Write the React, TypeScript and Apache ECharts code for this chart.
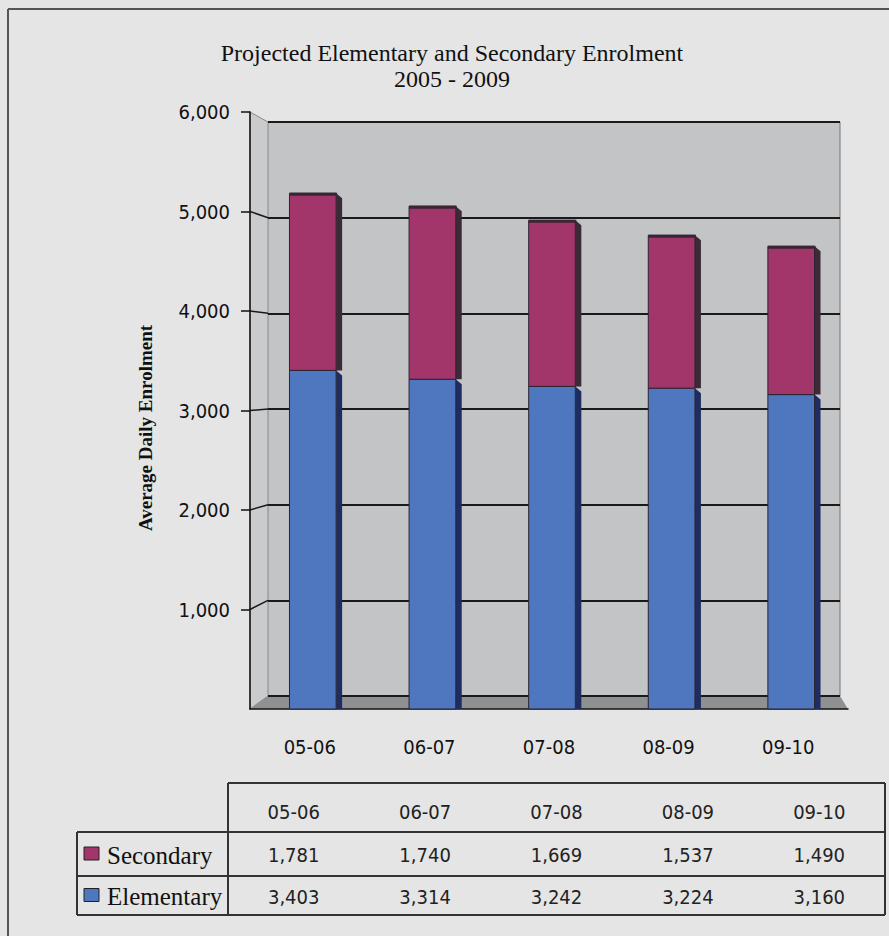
import React, { useEffect, useRef } from "react";
import * as echarts from "echarts";

const categories = ["05-06", "06-07", "07-08", "08-09", "09-10"];
const secondary = [1781, 1740, 1669, 1537, 1490];
const elementary = [3403, 3314, 3242, 3224, 3160];
const seriesNames = ["Secondary", "Elementary"];
const titleLines = ["Projected Elementary and Secondary Enrolment", "2005 - 2009"];
const yAxisName = "Average Daily Enrolment";
const yMin = 0;
const yMax = 6000;
const yInterval = 1000;

const SEC_COLOR = "#a2356a";
const SEC_SIDE = "#3c2a36";
const ELE_COLOR = "#4e77c0";
const ELE_SIDE = "#1f2c62";

const NUM_FONT = '"DejaVu Sans Condensed", "Liberation Sans Narrow", "DejaVu Sans", sans-serif';
const SERIF = '"Liberation Serif", "DejaVu Serif", serif';

// layout
const FRONT = { left: 250, top: 112, width: 598, height: 597 };
const BACK = { left: 268, top: 122, width: 572, height: 574 };
const TABLE = { legendLeft: 77, left: 228, right: 885, top: 783, r1: 832, r2: 876, bottom: 915 };

const fmt = (v: number) => v.toLocaleString("en-US");

export default function App() {
  const ref = useRef<HTMLDivElement>(null);
  useEffect(() => {
    document.body.style.margin = "0";
    const chart = echarts.init(ref.current!, null, { renderer: "svg" });

    const makeRender = (color: string, side: string, isTop: boolean) =>
      (params: any, api: any) => {
        const i = api.value(0);
        const p0 = api.coord([i, api.value(1)]);
        const p1 = api.coord([i, api.value(2)]);
        const w = api.size([1, 0])[0] * 0.39;
        const xc = p0[0] + 3;
        const x0 = xc - w / 2;
        const x1 = xc + w / 2;
        const yTop = p1[1];
        const yBot = p0[1];
        const children: any[] = [
          {
            type: "polygon",
            shape: { points: [[x1, yTop], [x1 + 6, yTop + 5], [x1 + 6, yBot], [x1, yBot]] },
            style: { fill: side },
          },
          {
            type: "rect",
            shape: { x: x0, y: yTop, width: w, height: yBot - yTop },
            style: { fill: color, stroke: "#2a2430", lineWidth: 1 },
          },
        ];
        if (isTop) {
          children.push({
            type: "line",
            shape: { x1: x0, y1: yTop + 1, x2: x1 + 1, y2: yTop + 1 },
            style: { stroke: "#3a2632", lineWidth: 3 },
          });
        }
        return { type: "group", children };
      };

    const colW = (TABLE.right - TABLE.left) / categories.length;
    const tableEls: any[] = [];
    const lineStyle = { stroke: "#333", lineWidth: 2 };
    const hl = (x1: number, x2: number, y: number) =>
      tableEls.push({ type: "line", shape: { x1, y1: y, x2, y2: y }, style: lineStyle });
    const vl = (x: number, y1: number, y2: number) =>
      tableEls.push({ type: "line", shape: { x1: x, y1, x2: x, y2 }, style: lineStyle });
    hl(TABLE.left, TABLE.right, TABLE.top);
    hl(TABLE.legendLeft, TABLE.right, TABLE.r1);
    hl(TABLE.legendLeft, TABLE.right, TABLE.r2);
    hl(TABLE.legendLeft, TABLE.right, TABLE.bottom);
    vl(TABLE.left, TABLE.top, TABLE.bottom);
    vl(TABLE.right, TABLE.top, TABLE.bottom);
    vl(TABLE.legendLeft, TABLE.r1, TABLE.bottom);
    const rows = [
      { name: seriesNames[0], values: secondary, color: SEC_COLOR, y: (TABLE.r1 + TABLE.r2) / 2 },
      { name: seriesNames[1], values: elementary, color: ELE_COLOR, y: (TABLE.r2 + TABLE.bottom) / 2 },
    ];
    categories.forEach((c, i) => {
      tableEls.push({
        type: "text",
        x: TABLE.left + (i + 0.5) * colW,
        y: (TABLE.top + TABLE.r1) / 2 + 4,
        style: { text: c, font: `20px ${NUM_FONT}`, fill: "#222", align: "center", verticalAlign: "middle" },
      });
    });
    rows.forEach((r) => {
      tableEls.push({
        type: "rect",
        shape: { x: 84, y: r.y - 7, width: 15, height: 13 },
        style: { fill: r.color, stroke: "#222", lineWidth: 1 },
      });
      tableEls.push({
        type: "text",
        x: 107,
        y: r.y + 1,
        style: { text: r.name, font: `25px ${SERIF}`, fill: "#111", align: "left", verticalAlign: "middle" },
      });
      r.values.forEach((v, i) => {
        tableEls.push({
          type: "text",
          x: TABLE.left + (i + 0.5) * colW,
          y: r.y + 1,
          style: { text: fmt(v), font: `20px ${NUM_FONT}`, fill: "#222", align: "center", verticalAlign: "middle" },
        });
      });
    });

    const fb = FRONT.top + FRONT.height;
    const bb = BACK.top + BACK.height;
    const decor: any[] = [
      // frame
      { type: "line", shape: { x1: 8, y1: 9, x2: 889, y2: 9 }, style: { stroke: "#555", lineWidth: 2 } },
      { type: "line", shape: { x1: 8, y1: 9, x2: 8, y2: 936 }, style: { stroke: "#555", lineWidth: 2 } },
      // side wall
      {
        type: "polygon",
        z: -1,
        shape: { points: [[FRONT.left, FRONT.top], [BACK.left, BACK.top], [BACK.left, bb], [FRONT.left, fb]] },
        style: { fill: "#c9cbcd", stroke: "#888", lineWidth: 1 },
      },
      // floor
      {
        type: "polygon",
        z: -1,
        shape: {
          points: [[FRONT.left, fb], [BACK.left, bb], [BACK.left + BACK.width, bb], [FRONT.left + FRONT.width, fb]],
        },
        style: { fill: "#8f9092" },
      },
      // wall right edge
      {
        type: "line",
        shape: { x1: BACK.left + BACK.width, y1: BACK.top, x2: BACK.left + BACK.width, y2: bb },
        style: { stroke: "#777", lineWidth: 1 },
      },
      // titles
      {
        type: "text",
        x: 452,
        y: 53,
        style: { text: titleLines[0], font: `24px ${SERIF}`, fill: "#111", align: "center", verticalAlign: "middle" },
      },
      {
        type: "text",
        x: 452,
        y: 79,
        style: { text: titleLines[1], font: `24px ${SERIF}`, fill: "#111", align: "center", verticalAlign: "middle" },
      },
      // y axis name
      {
        type: "text",
        x: 145,
        y: 428,
        rotation: Math.PI / 2,
        style: {
          text: yAxisName,
          font: `bold 19px ${SERIF}`,
          fill: "#111",
          align: "center",
          verticalAlign: "middle",
        },
      },
    ];

    chart.setOption({
      animation: false,
      backgroundColor: "#e5e5e5",
      grid: [
        { ...FRONT, show: false },
        { ...BACK, show: true, backgroundColor: "#c2c4c6", borderWidth: 0, z: -2 },
      ],
      xAxis: [
        {
          type: "category",
          gridIndex: 0,
          data: categories,
          axisLine: { lineStyle: { color: "#111", width: 1.5 } },
          axisTick: { length: 9, lineStyle: { color: "#111", width: 1.5 } },
          axisLabel: { margin: 28, color: "#111", fontSize: 20, fontFamily: NUM_FONT },
          z: 3,
        },
        { type: "category", gridIndex: 1, data: categories, show: false },
      ],
      yAxis: [
        {
          type: "value",
          gridIndex: 0,
          min: yMin,
          max: yMax,
          interval: yInterval,
          axisLine: { show: true, lineStyle: { color: "#111", width: 1.5 } },
          axisTick: { show: true, length: 9, lineStyle: { color: "#111", width: 1.5 } },
          axisLabel: {
            margin: 20,
            color: "#111",
            fontSize: 20,
            fontFamily: NUM_FONT,
            showMinLabel: false,
            formatter: (v: number) => (v === 0 ? "" : fmt(v)),
          },
          splitLine: { show: false },
          z: 3,
        },
        {
          type: "value",
          gridIndex: 1,
          min: yMin,
          max: yMax,
          interval: yInterval,
          axisLine: { show: false },
          axisTick: { show: false },
          axisLabel: { show: false },
          splitLine: { show: true, lineStyle: { color: "#1a1a1a", width: 2 } },
        },
      ],
      series: [
        {
          name: seriesNames[1],
          type: "custom",
          xAxisIndex: 0,
          yAxisIndex: 0,
          renderItem: makeRender(ELE_COLOR, ELE_SIDE, false),
          encode: { x: 0, y: [1, 2] },
          data: categories.map((_, i) => [i, 0, elementary[i]]),
          z: 5,
        },
        {
          name: seriesNames[0],
          type: "custom",
          xAxisIndex: 0,
          yAxisIndex: 0,
          renderItem: makeRender(SEC_COLOR, SEC_SIDE, true),
          encode: { x: 0, y: [1, 2] },
          data: categories.map((_, i) => [i, elementary[i], elementary[i] + secondary[i]]),
          z: 5,
        },
      ],
      graphic: [...decor, ...tableEls],
    });

    // connectors from front ticks to wall gridlines
    const connectors: any[] = [];
    for (let v = yMin + yInterval; v < yMax; v += yInterval) {
      const yf = chart.convertToPixel({ yAxisIndex: 0 }, v) as number;
      const yb = chart.convertToPixel({ yAxisIndex: 1 }, v) as number;
      connectors.push({
        type: "line",
        shape: { x1: FRONT.left, y1: yf, x2: BACK.left, y2: yb },
        style: { stroke: "#1a1a1a", lineWidth: 1.5 },
      });
    }
    chart.setOption({ graphic: [...decor, ...tableEls, ...connectors] });

    return () => chart.dispose();
  }, []);
  return <div ref={ref} style={{ width: 889, height: 936 }} />;
}
